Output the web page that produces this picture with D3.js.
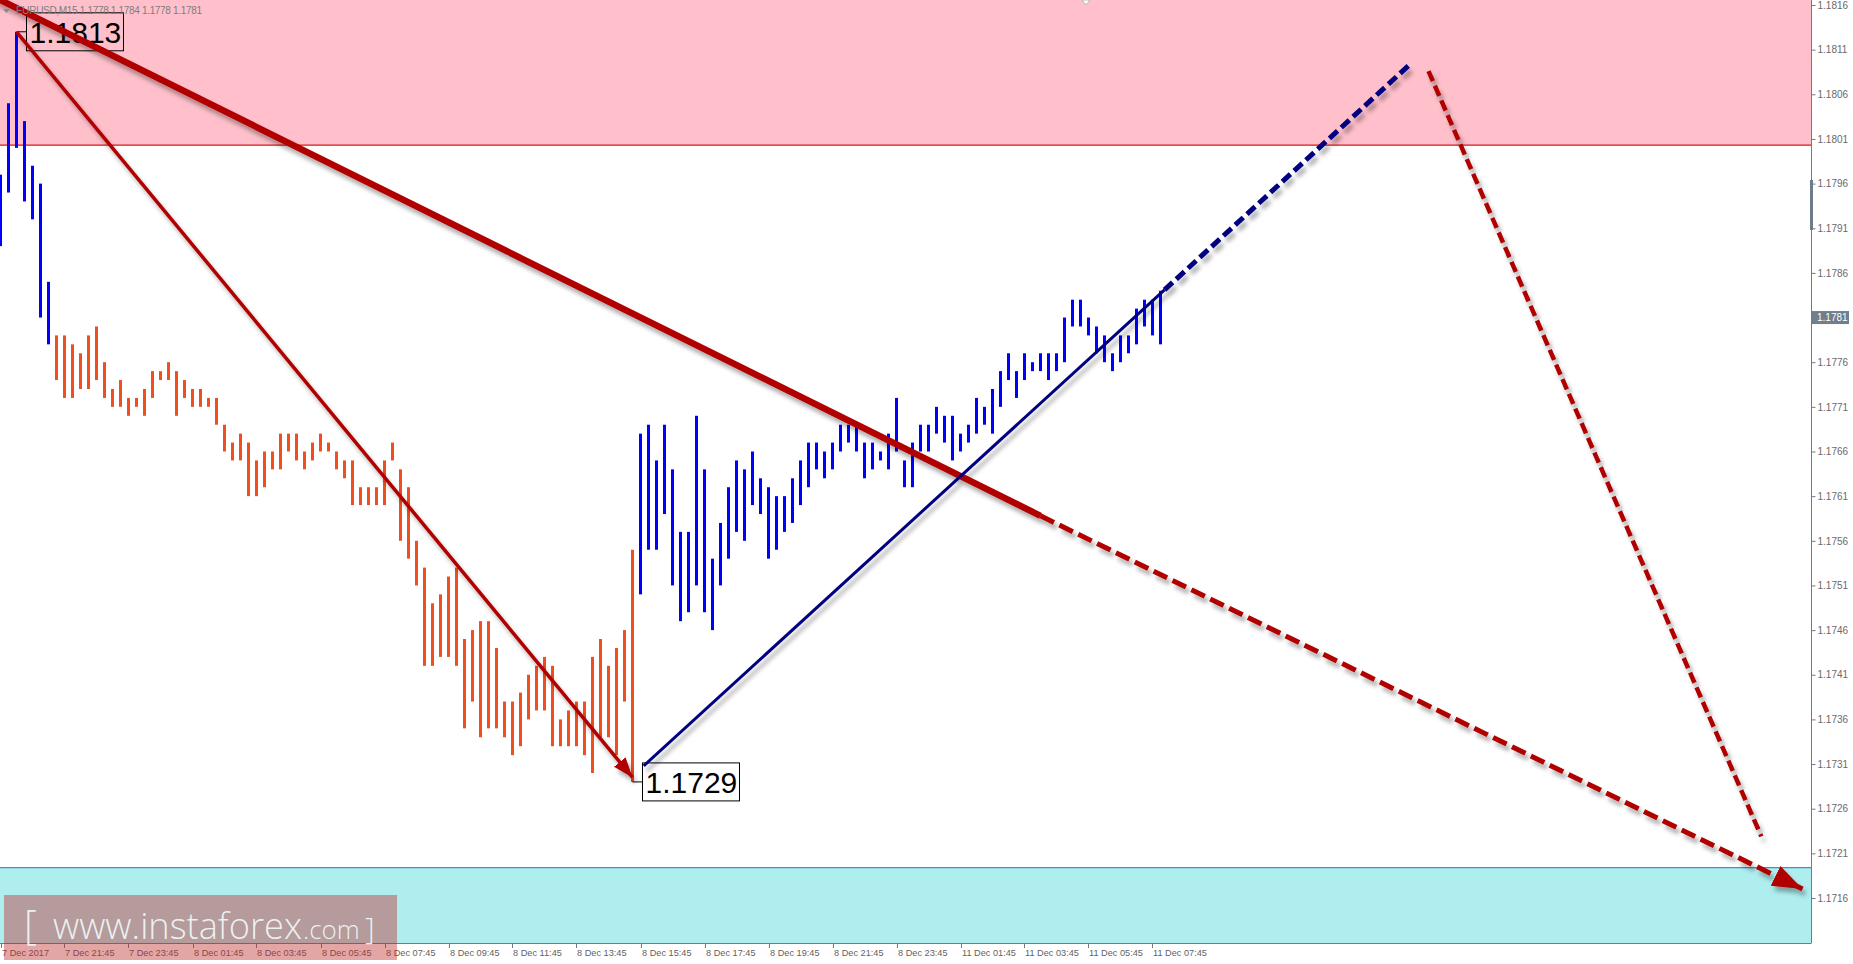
<!DOCTYPE html>
<html><head><meta charset="utf-8">
<script src="https://cdn.jsdelivr.net/npm/d3@7"></script>
<style>
html,body{margin:0;padding:0;background:#fff;overflow:hidden}
svg{display:block}
</style></head><body>
<svg id="chart" width="1853" height="964"></svg>
<script>
// ---------------- data ----------------
const symbolTitle = "EURUSD,M15";
const lastOHLC = [1.1778, 1.1784, 1.1778, 1.1781];
const lastPrice = 1.1781;

const highs = [
 1.1797,1.1805,1.1813,1.1803,1.1798,1.1796,1.1785,1.1779,1.1779,1.1778,
 1.1777,1.1779,1.1780,1.1776,1.1773,1.1774,1.1772,1.1772,1.1773,1.1775,
 1.1775,1.1776,1.1775,1.1774,1.1773,1.1773,1.1772,1.1772,1.1769,1.1767,
 1.1768,1.1767,1.1765,1.1766,1.1766,1.1768,1.1768,1.1768,1.1766,1.1767,
 1.1768,1.1767,1.1766,1.1765,1.1765,1.1762,1.1762,1.1762,1.1765,1.1767,
 1.1764,1.1762,1.1756,1.1753,1.1749,1.1750,1.1752,1.1753,1.1745,1.1746,
 1.1747,1.1747,1.1744,1.1738,1.1738,1.1739,1.1741,1.1742,1.1743,1.1742,
 1.1736,1.1737,1.1738,1.1738,1.1743,1.1745,1.1742,1.1744,1.1746,1.1755,
 1.1768,1.1769,1.1765,1.1769,1.1764,1.1757,1.1757,1.1770,1.1764,1.1754,
 1.1758,1.1762,1.1765,1.1764,1.1766,1.1763,1.1762,1.1761,1.1761,1.1763,
 1.1765,1.1767,1.1767,1.1766,1.1767,1.1769,1.1769,1.1769,1.1767,1.1767,
 1.1766,1.1768,1.1772,1.1765,1.1767,1.1769,1.1769,1.1771,1.1770,1.1770,
 1.1768,1.1769,1.1772,1.1771,1.1773,1.1775,1.1777,1.1775,1.1777,1.1776,
 1.1777,1.1777,1.1777,1.1781,1.1783,1.1783,1.1781,1.1780,1.1779,1.1777,
 1.1779,1.1779,1.1782,1.1783,1.1783,1.1784
];
const lows = [
 1.1789,1.1795,1.1800,1.1794,1.1792,1.1781,1.1778,1.1774,1.1772,1.1772,
 1.1773,1.1773,1.1774,1.1772,1.1771,1.1771,1.1770,1.1771,1.1770,1.1772,
 1.1774,1.1774,1.1770,1.1772,1.1771,1.1771,1.1771,1.1769,1.1766,1.1765,
 1.1765,1.1761,1.1761,1.1762,1.1764,1.1764,1.1766,1.1765,1.1764,1.1765,
 1.1766,1.1766,1.1764,1.1763,1.1760,1.1760,1.1760,1.1760,1.1760,1.1765,
 1.1756,1.1754,1.1751,1.1742,1.1742,1.1743,1.1743,1.1742,1.1735,1.1738,
 1.1734,1.1735,1.1735,1.1734,1.1732,1.1733,1.1736,1.1737,1.1737,1.1733,
 1.1733,1.1733,1.1733,1.1732,1.1730,1.1734,1.1734,1.1732,1.1738,1.1729,
 1.1750,1.1755,1.1755,1.1759,1.1751,1.1747,1.1748,1.1751,1.1748,1.1746,
 1.1751,1.1754,1.1757,1.1756,1.1760,1.1759,1.1754,1.1755,1.1757,1.1758,
 1.1760,1.1762,1.1764,1.1763,1.1764,1.1766,1.1767,1.1766,1.1763,1.1764,
 1.1765,1.1764,1.1766,1.1762,1.1762,1.1766,1.1766,1.1768,1.1767,1.1765,
 1.1766,1.1767,1.1768,1.1769,1.1768,1.1771,1.1774,1.1772,1.1774,1.1775,
 1.1775,1.1774,1.1775,1.1776,1.1780,1.1780,1.1779,1.1777,1.1776,1.1775,
 1.1776,1.1777,1.1778,1.1780,1.1779,1.1778
];
// bar index ranges belonging to the upward waves (others: downward wave)
const upWaveRanges = [[0, 6], [80, 145]];

const xTickIndex = [0,8,16,24,32,40,48,56,64,72,80,88,96,104,112,120,128,136,144];
const xTickLabels = ["7 Dec 2017","7 Dec 21:45","7 Dec 23:45","8 Dec 01:45","8 Dec 03:45",
  "8 Dec 05:45","8 Dec 07:45","8 Dec 09:45","8 Dec 11:45","8 Dec 13:45","8 Dec 15:45",
  "8 Dec 17:45","8 Dec 19:45","8 Dec 21:45","8 Dec 23:45","11 Dec 01:45","11 Dec 03:45",
  "11 Dec 05:45","11 Dec 07:45"];
const yTicks = [1.1816,1.1811,1.1806,1.1801,1.1796,1.1791,1.1786,1.1781,1.1776,1.1771,
  1.1766,1.1761,1.1756,1.1751,1.1746,1.1741,1.1736,1.1731,1.1726,1.1721,1.1716];

const resistanceZone = [1.18003, 1.1820];
const supportZone = [1.1700, 1.17194];

const pivotIndex = [2, 79];
const pivotPrice = [1.1813, 1.1729];
const pivotText = ["1.1813", "1.1729"];

// wave lines: [barIndex, price]
const trendSolid = [[-1, 1.18170], [130, 1.17588]];
const trendForecast = [[130, 1.17588], [225.25, 1.17170]];
const waveDown = [[2, 1.1813], [79, 1.17295]];
const waveUp = [[80.4, 1.17308], [145.5, 1.17841]];
const waveUpForecast = [[145.5, 1.17841], [176, 1.18092]];
const waveDownForecast = [[178.5, 1.18086], [220.1, 1.17229]];

// ---------------- layout ----------------
const W = 1853, H = 964;
const plotR = 1811, plotB = 943;
const svg = d3.select("#chart");

const x = d3.scaleLinear().domain([0, 145]).range([0.5, 1160.5]);
const y = d3.scaleLinear().domain([1.1716, 1.1816]).range([898, 5]);

const BLUE = "#0000FF", ORANGE = "#F04E1E", DARKRED = "#B00000", NAVY = "#000080";

const defs = svg.append("defs");
defs.append("clipPath").attr("id", "plotClip")
  .append("rect").attr("x", 0).attr("y", 0).attr("width", plotR).attr("height", plotB);
const f = defs.append("filter").attr("id", "shadow")
  .attr("x", "-10%").attr("y", "-10%").attr("width", "130%").attr("height", "130%");
f.append("feDropShadow").attr("dx", 3).attr("dy", 5).attr("stdDeviation", 2)
  .attr("flood-color", "#000").attr("flood-opacity", 0.32);

function mk(id, len, wid, color) {
  defs.append("marker").attr("id", id).attr("markerUnits", "userSpaceOnUse")
    .attr("markerWidth", len + 2).attr("markerHeight", wid + 2)
    .attr("refX", len).attr("refY", wid / 2).attr("orient", "auto")
    .append("path").attr("d", `M0,0 L${len},${wid/2} L0,${wid} Z`).attr("fill", color);
}
mk("arrThick", 30, 22, DARKRED);
mk("arrThin", 20, 15, DARKRED);

svg.append("rect").attr("width", W).attr("height", H).attr("fill", "#fff");

const plot = svg.append("g").attr("clip-path", "url(#plotClip)");

// zones
plot.append("rect").attr("x", 0).attr("width", plotR)
  .attr("y", y(resistanceZone[1])).attr("height", y(resistanceZone[0]) - y(resistanceZone[1]))
  .attr("fill", "#FFC0CB");
plot.append("line").attr("x1", 0).attr("x2", plotR)
  .attr("y1", y(resistanceZone[0])).attr("y2", y(resistanceZone[0]))
  .attr("stroke", "#D81818").attr("stroke-width", 1.2);
plot.append("rect").attr("x", 0).attr("width", plotR)
  .attr("y", y(supportZone[1])).attr("height", y(supportZone[0]) - y(supportZone[1]))
  .attr("fill", "#AFEEEE");
plot.append("line").attr("x1", 0).attr("x2", plotR)
  .attr("y1", y(supportZone[1])).attr("y2", y(supportZone[1]))
  .attr("stroke", "#3F8FD8").attr("stroke-width", 1.2);

// header
svg.append("path").attr("d", "M3,9 L10,9 L6.5,13 Z").attr("fill", "#8a8a8a");
svg.append("text").attr("x", 16).attr("y", 14)
  .attr("font-family", "Liberation Sans, Arial, sans-serif").attr("font-size", 10)
  .attr("fill", "#7d7d7d").attr("textLength", 186).attr("lengthAdjust", "spacing")
  .text(symbolTitle + "  " + lastOHLC.map(d => d.toFixed(4)).join(" "));

// bars
const isUp = i => upWaveRanges.some(r => i >= r[0] && i <= r[1]);
plot.append("g").selectAll("rect").data(highs.map((h, i) => ({i, h, l: lows[i]})))
  .join("rect")
  .attr("x", d => x(d.i) - 1.5).attr("width", 3)
  .attr("y", d => y(d.h)).attr("height", d => y(d.l) - y(d.h))
  .attr("fill", d => isUp(d.i) ? BLUE : ORANGE);

// pivot labels
const labG = plot.append("g");
pivotIndex.forEach((pi, k) => {
  const px = x(pi), py = y(pivotPrice[k]);
  const bx = px + 10, bw = 97, bh = 38;
  labG.append("line").attr("x1", px).attr("x2", bx).attr("y1", py).attr("y2", py)
    .attr("stroke", "#000").attr("stroke-width", 1);
  labG.append("rect").attr("x", bx).attr("y", py - bh / 2).attr("width", bw).attr("height", bh)
    .attr("fill", k === 0 ? "none" : "#fff").attr("stroke", "#000").attr("stroke-width", 1);
  labG.append("text").attr("x", bx + 3).attr("y", py + 11)
    .attr("font-family", "Liberation Sans, Arial, sans-serif").attr("font-size", 30)
    .attr("fill", "#000").text(pivotText[k]);
});

// wave lines
const line = d3.line().x(d => x(d[0])).y(d => y(d[1]));
const lg = plot.append("g").attr("filter", "url(#shadow)");
lg.append("path").attr("d", line(waveDown)).attr("fill", "none")
  .attr("stroke", DARKRED).attr("stroke-width", 3.5).attr("marker-end", "url(#arrThin)");
lg.append("path").attr("d", line(trendForecast)).attr("fill", "none")
  .attr("stroke", DARKRED).attr("stroke-width", 5).attr("stroke-dasharray", "15 6")
  .attr("marker-end", "url(#arrThick)");
lg.append("path").attr("d", line(trendSolid)).attr("fill", "none")
  .attr("stroke", DARKRED).attr("stroke-width", 6.5);
lg.append("path").attr("d", line(waveUp)).attr("fill", "none")
  .attr("stroke", NAVY).attr("stroke-width", 3);
lg.append("path").attr("d", line(waveUpForecast)).attr("fill", "none")
  .attr("stroke", NAVY).attr("stroke-width", 5).attr("stroke-dasharray", "11 5");
lg.append("path").attr("d", line(waveDownForecast)).attr("fill", "none")
  .attr("stroke", DARKRED).attr("stroke-width", 4.5).attr("stroke-dasharray", "11 5");

// chart-shift marker
svg.append("path").attr("d", "M1082,0 L1090,0 L1086,5 Z").attr("fill", "#fff").attr("stroke", "#aaa").attr("stroke-width", 0.8);

// axes
const axisColor = "#6f7c87";
svg.append("line").attr("x1", plotR + 0.5).attr("x2", plotR + 0.5).attr("y1", 0).attr("y2", plotB)
  .attr("stroke", axisColor).attr("stroke-width", 1);
svg.append("line").attr("x1", 0).attr("x2", plotR + 0.5).attr("y1", plotB + 0.5).attr("y2", plotB + 0.5)
  .attr("stroke", axisColor).attr("stroke-width", 1);
svg.append("rect").attr("x", plotR - 1).attr("y", 180).attr("width", 3).attr("height", 50).attr("fill", axisColor);

const yAxis = d3.axisRight(y).tickValues(yTicks).tickFormat(d3.format(".4f")).tickSize(4).tickPadding(2);
const ya = svg.append("g").attr("transform", `translate(${plotR + 0.5},0)`).call(yAxis);
ya.select(".domain").remove();
ya.selectAll("line").attr("stroke", axisColor);
ya.selectAll("text").attr("font-family", "Liberation Sans, Arial, sans-serif").attr("font-size", 10).attr("fill", "#6a6a6a");

// current price tag
const tagY = y(lastPrice);
svg.append("rect").attr("x", plotR + 1).attr("y", tagY - 6.5).attr("width", 37).attr("height", 13).attr("fill", "#6f7f8c");
svg.append("text").attr("x", plotR + 6).attr("y", tagY + 3.5)
  .attr("font-family", "Liberation Sans, Arial, sans-serif").attr("font-size", 10)
  .attr("fill", "#fff").text(lastPrice.toFixed(4));

const xa = svg.append("g");
xTickIndex.forEach((ti, k) => {
  const tx = Math.round(x(ti));
  xa.append("line").attr("x1", tx + 0.5).attr("x2", tx + 0.5).attr("y1", plotB).attr("y2", plotB + 5)
    .attr("stroke", axisColor);
  xa.append("text").attr("x", tx + 1).attr("y", plotB + 13)
    .attr("font-family", "Liberation Sans, Arial, sans-serif").attr("font-size", 9.2)
    .attr("fill", "#5f5f5f").text(xTickLabels[k]);
});

// watermark
svg.append("rect").attr("x", 4).attr("y", 895).attr("width", 393).attr("height", 65)
  .attr("fill", "rgba(190,40,40,0.42)");
const wm = svg.append("text").attr("y", 939).attr("fill", "rgba(240,250,250,0.92)")
  .attr("font-family", "Open Sans, Lato, sans-serif").attr("font-weight", 300);
wm.append("tspan").attr("x", 24).attr("font-size", 40).text("[");
wm.append("tspan").attr("x", 53).attr("font-size", 37).attr("textLength", 249).attr("lengthAdjust", "spacingAndGlyphs").text("www.instaforex");
wm.append("tspan").attr("x", 303).attr("font-size", 26).text(".com");
wm.append("tspan").attr("x", 365).attr("font-size", 30).text("]");
</script>
</body></html>
